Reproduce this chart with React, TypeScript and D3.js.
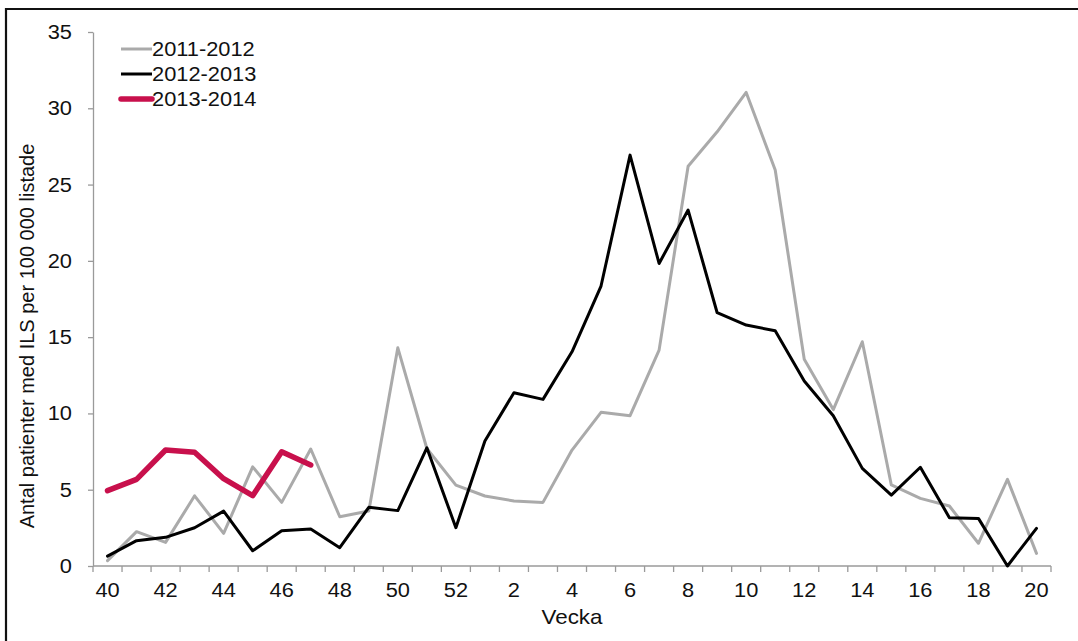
import * as d3 from 'd3';
import { useEffect, useRef } from 'react';

const weeks = [
  '40', '41', '42', '43', '44', '45', '46', '47', '48', '49', '50', '51', '52',
  '1', '2', '3', '4', '5', '6', '7', '8', '9', '10', '11', '12', '13', '14', '15', '16', '17', '18', '19', '20',
];
const tickWeeks = ['40', '42', '44', '46', '48', '50', '52', '2', '4', '6', '8', '10', '12', '14', '16', '18', '20'];
const yTicks = [0, 5, 10, 15, 20, 25, 30, 35];

const season1112 = [
  0.35, 2.25, 1.55, 4.6, 2.14, 6.5, 4.17, 7.67, 3.23, 3.6, 14.3, 7.7, 5.3,
  4.59, 4.26, 4.17, 7.6, 10.07, 9.85, 14.15, 26.2, 28.46, 31.04, 25.95, 13.55, 10.25, 14.7, 5.31, 4.43, 3.93, 1.49, 5.68, 0.83,
];
const season1213 = [
  0.65, 1.66, 1.88, 2.51, 3.6, 1.0, 2.31, 2.42, 1.2, 3.85, 3.63, 7.75, 2.51,
  8.19, 11.36, 10.92, 14.04, 18.35, 26.93, 19.83, 23.33, 16.6, 15.79, 15.42, 12.12, 9.85, 6.4, 4.65, 6.47, 3.17, 3.12, 0, 2.47,
];
const season1314 = [4.94, 5.68, 7.6, 7.45, 5.72, 4.61, 7.49, 6.62];

const series = [
  { name: '2011-2012', values: season1112, color: '#aaaaaa', width: 3 },
  { name: '2012-2013', values: season1213, color: '#000000', width: 3 },
  { name: '2013-2014', values: season1314, color: '#c8104c', width: 5.5 },
];

const W = 1078;
const H = 641;
const FONT = '"Liberation Sans", Arial, sans-serif';
const STRETCH = 1.12; // the reference text is a little wider than tall

export default function App() {
  const svgRef = useRef<SVGSVGElement>(null);

  useEffect(() => {
    if (!svgRef.current) return;
    const svg = d3.select(svgRef.current);
    svg.selectAll('*').remove();

    const left = 93, right = 1051, top = 32, bottom = 566;

    svg.append('rect').attr('width', W).attr('height', H).attr('fill', '#fff');

    // frame (cut at right and bottom)
    svg.append('path')
      .attr('d', `M6,${H} V9 H${W}`)
      .attr('fill', 'none')
      .attr('stroke', '#111')
      .attr('stroke-width', 2.2);

    const x = d3.scaleBand().domain(weeks).range([left, right]);
    const y = d3.scaleLinear().domain([0, 35]).range([bottom, top]);
    const cx = (w: string) => (x(w) ?? 0) + x.bandwidth() / 2;

    const label = (tx: number, ty: number, str: string, anchor: string, size = 19.5) =>
      svg.append('text')
        .attr('transform', `translate(${tx},${ty}) scale(${STRETCH},1)`)
        .attr('text-anchor', anchor)
        .attr('fill', '#111')
        .style('font-family', FONT)
        .style('font-size', `${size}px`)
        .text(str);

    const axisColor = '#9a9a9a';

    // y axis
    const yAxis = svg.append('g')
      .attr('transform', `translate(${left},0)`)
      .call(d3.axisLeft(y).tickValues(yTicks).tickSize(5).tickFormat(() => '').tickSizeOuter(0));
    yAxis.select('.domain').attr('stroke', axisColor).attr('stroke-width', 1.3);
    yAxis.selectAll('line').attr('stroke', axisColor).attr('stroke-width', 1.3);
    yTicks.forEach(t => label(72, y(t) + 7, String(t), 'end'));

    // x axis: ticks on category boundaries
    const xg = svg.append('g').attr('transform', `translate(0,${bottom})`);
    xg.append('line')
      .attr('x1', left).attr('x2', right)
      .attr('stroke', axisColor).attr('stroke-width', 1.3);
    xg.selectAll('.xt')
      .data(weeks.concat(['end']))
      .join('line')
      .attr('class', 'xt')
      .attr('x1', (d, i) => i < weeks.length ? (x(d) ?? 0) : right)
      .attr('x2', (d, i) => i < weeks.length ? (x(d) ?? 0) : right)
      .attr('y1', 0).attr('y2', 6)
      .attr('stroke', axisColor).attr('stroke-width', 1.3);
    tickWeeks.forEach(w => label(cx(w), bottom + 31, w, 'middle'));

    label(572, 624, 'Vecka', 'middle', 20);

    svg.append('text')
      .attr('transform', 'translate(34,336) rotate(-90)')
      .attr('text-anchor', 'middle')
      .attr('fill', '#111')
      .style('font-family', FONT)
      .style('font-size', '20px')
      .text('Antal patienter med ILS per 100 000 listade');

    // lines
    const line = d3.line<number>()
      .x((_, i) => cx(weeks[i]))
      .y(d => y(d));

    series.forEach(s => {
      svg.append('path')
        .datum(s.values)
        .attr('d', line)
        .attr('fill', 'none')
        .attr('stroke', s.color)
        .attr('stroke-width', s.width)
        .attr('stroke-linejoin', 'round')
        .attr('stroke-linecap', 'round');
    });

    // legend
    series.forEach((s, i) => {
      const ly = 49 + i * 25;
      svg.append('line')
        .attr('x1', 121).attr('x2', 152)
        .attr('y1', ly).attr('y2', ly)
        .attr('stroke', s.color)
        .attr('stroke-width', s.width)
        .attr('stroke-linecap', i === 2 ? 'round' : 'butt');
      label(152, ly + 6.5, s.name, 'start');
    });
  }, []);

  return (
    <svg
      ref={svgRef}
      width={W}
      height={H}
      style={{ position: 'absolute', left: 0, top: 0, display: 'block' }}
    />
  );
}
